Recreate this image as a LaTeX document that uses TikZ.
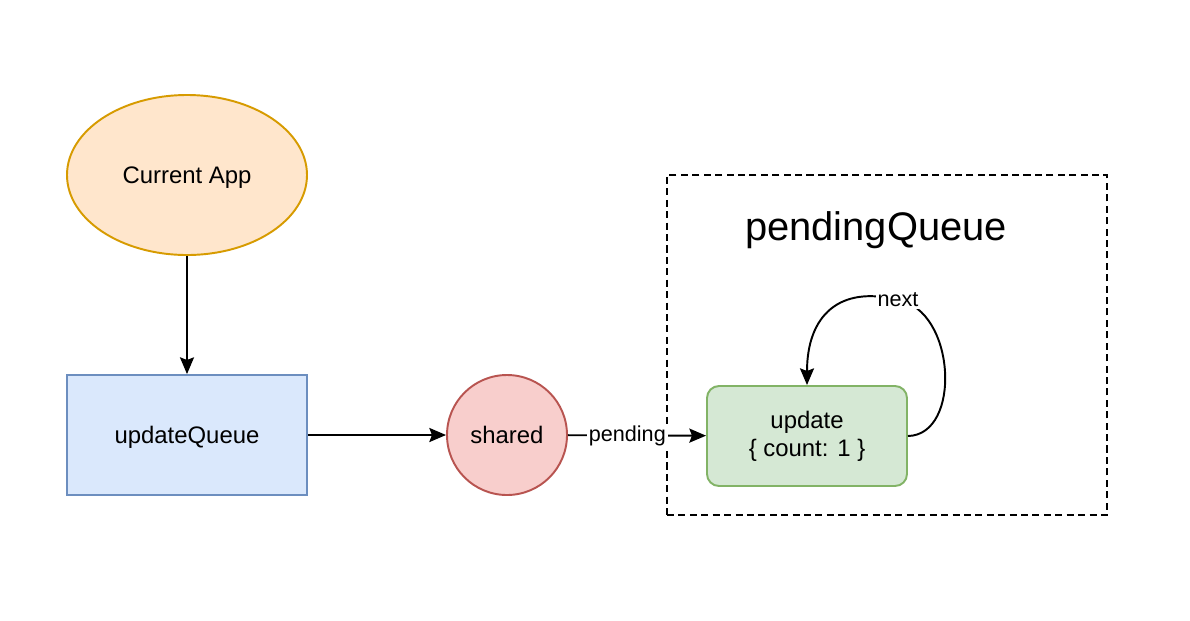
\documentclass[tikz,border=0pt]{standalone}
\usepackage{fontspec}
\setmainfont{Liberation Sans}
\usetikzlibrary{arrows.meta,shapes.geometric}
\definecolor{appfill}{HTML}{FFE6CC}
\definecolor{appdraw}{HTML}{D79B00}
\definecolor{uqfill}{HTML}{DAE8FC}
\definecolor{uqdraw}{HTML}{6C8EBF}
\definecolor{shfill}{HTML}{F8CECC}
\definecolor{shdraw}{HTML}{B85450}
\definecolor{upfill}{HTML}{D5E8D4}
\definecolor{updraw}{HTML}{82B366}
\tikzset{
  base/.style={line width=1.1pt, font=\fontsize{13.6}{16}\selectfont, align=center, inner sep=0pt},
  oneline/.style={text depth=0pt},
  arr/.style={line width=1.1pt, -{Stealth[length=9.5pt,width=8pt,inset=1.5pt]}},
  lbl/.style={fill=white, inner sep=1pt, font=\fontsize{12.3}{14}\selectfont},
}
\begin{document}
\begin{tikzpicture}[x=0.02cm,y=-0.02cm]
\useasboundingbox[fill=white] (0,0) rectangle (1190,620);
\node[base, oneline, ellipse, draw=appdraw, fill=appfill, minimum width=240*0.02cm, minimum height=160*0.02cm] (app) at (187,175) {Current App};
\node[base, oneline, rectangle, draw=uqdraw, fill=uqfill, minimum width=240*0.02cm, minimum height=120*0.02cm] (uq) at (187,435) {updateQueue};
\node[base, oneline, circle, draw=shdraw, fill=shfill, minimum size=120*0.02cm] (sh) at (507,435) {shared};
\node[draw, line width=1.2pt, dash pattern=on 4pt off 2.5pt, minimum width=440*0.02cm, minimum height=340*0.02cm, inner sep=0pt] (pq) at (887,345) {};
\node[font=\fontsize{22.7}{26}\selectfont, inner sep=0pt, text depth=0pt] (pqt) at (876,226) {pendingQueue};
\node[base, rectangle, rounded corners=0.24cm, draw=updraw, fill=upfill, minimum width=200*0.02cm, minimum height=100*0.02cm] (up) at (807,436) {update\\\{ count: 1 \}};
\draw[arr] (app) -- (uq);
\draw[arr] (uq) -- (sh);
\draw[arr] (sh) -- node[lbl, pos=0.43] (pl) {pending} (up);
\coordinate (nx) at (898,300);
\draw[arr] (up.east) .. controls (962,435) and (956,310) .. (nx) .. controls (840,285) and (807,315) .. (up.north);
\node[lbl] (nl) at (nx) {next};
\end{tikzpicture}
\end{document}
